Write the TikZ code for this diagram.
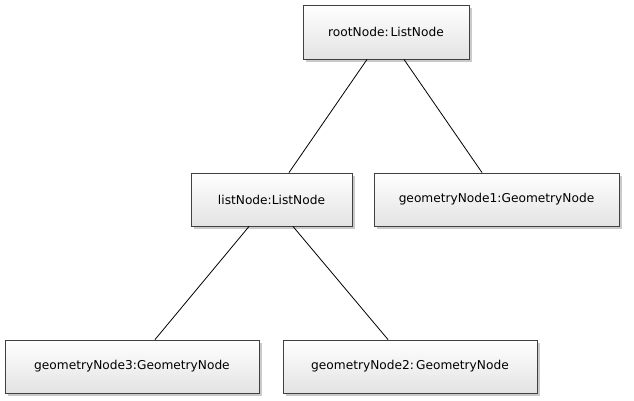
\documentclass[tikz,border=0pt]{standalone}
\usepackage{fontspec}
\setmainfont{DejaVu Sans}
\usetikzlibrary{shadows}
\begin{document}
\begin{tikzpicture}[x=1pt,y=-1pt,
  objbox/.style={draw=black!75, line width=0.9pt, top color=white, bottom color=black!11,
    drop shadow={shadow xshift=2.5pt, shadow yshift=-2.5pt, opacity=0.35, fill=black!60},
    inner sep=0pt, font=\fontsize{12.2}{14}\selectfont},
  link/.style={draw=black, line width=0.8pt}]
\useasboundingbox (0,0) rectangle (634,400);
\node[objbox, minimum width=166pt, minimum height=54pt] (root) at (386,32) {rootNode:\,ListNode};
\node[objbox, minimum width=161pt, minimum height=53pt] (list) at (271.5,199.5) {listNode:ListNode};
\node[objbox, minimum width=245pt, minimum height=53pt] (g1) at (496.5,199.5) {geometryNode1:GeometryNode};
\node[objbox, minimum width=254pt, minimum height=53pt] (g3) at (132,366.5) {geometryNode3:GeometryNode};
\node[objbox, minimum width=254pt, minimum height=53pt] (g2) at (410,366.5) {geometryNode2:\,GeometryNode};
\draw[link] (root.south -| 367,0) -- (list.north -| 289,0);
\draw[link] (root.south -| 404,0) -- (g1.north -| 482,0);
\draw[link] (list.south -| 249,0) -- (g3.north -| 155,0);
\draw[link] (list.south -| 293,0) -- (g2.north -| 388,0);
\end{tikzpicture}
\end{document}
